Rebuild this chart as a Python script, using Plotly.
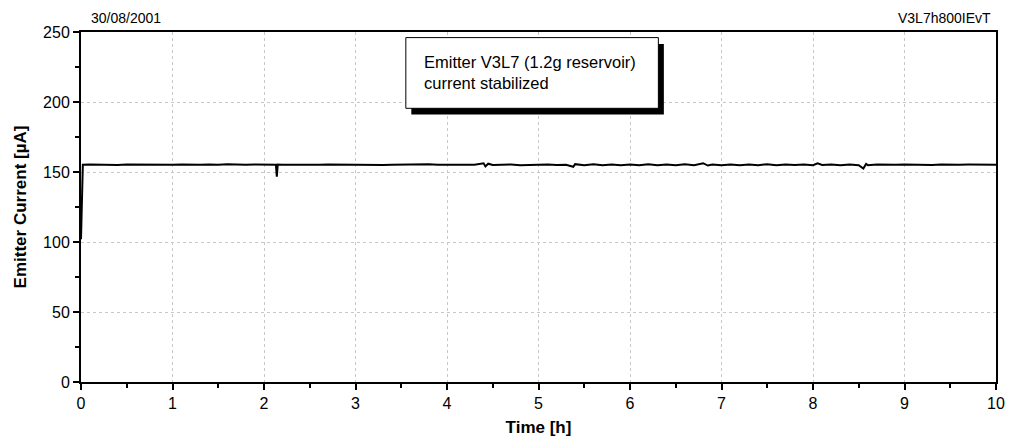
import plotly.graph_objects as go

# emitter current log
time_h = [0.0, 0.02, 0.1, 0.2, 0.3, 0.4, 0.5, 0.6, 0.7, 0.8, 0.9,
          1.0, 1.1, 1.2, 1.3, 1.4, 1.5, 1.6, 1.7, 1.8, 1.9,
          2.0, 2.1, 2.13, 2.14, 2.15, 2.2, 2.3, 2.4, 2.5, 2.6, 2.7, 2.8, 2.9,
          3.0, 3.1, 3.2, 3.3, 3.4, 3.5, 3.6, 3.7, 3.8, 3.9,
          4.0, 4.1, 4.2, 4.3, 4.4, 4.42, 4.45, 4.5, 4.6, 4.7, 4.8, 4.9,
          5.0, 5.1, 5.2, 5.3, 5.38, 5.4, 5.5, 5.6, 5.7, 5.8, 5.9,
          6.0, 6.1, 6.2, 6.3, 6.4, 6.5, 6.6, 6.7, 6.8, 6.85, 6.9,
          7.0, 7.1, 7.2, 7.3, 7.4, 7.5, 7.6, 7.7, 7.8, 7.9,
          8.0, 8.05, 8.1, 8.2, 8.3, 8.4, 8.5, 8.55, 8.58, 8.6, 8.7, 8.8, 8.9,
          9.0, 9.1, 9.2, 9.3, 9.4, 9.5, 9.6, 9.7, 9.8, 9.9, 10.0]
current_uA = [102.0, 155.2, 155.3, 155.1, 155.2, 155.0, 155.3, 155.2, 155.1, 155.3, 155.2,
              155.2, 155.3, 155.1, 155.2, 155.4, 155.2, 155.6, 155.2, 155.1, 155.3,
              155.2, 155.2, 155.2, 146.7, 155.3, 155.2, 155.1, 155.3, 155.2, 155.1, 155.3, 155.2, 155.2,
              155.1, 155.3, 155.2, 155.0, 155.2, 155.3, 155.1, 155.2, 155.6, 155.1,
              155.2, 154.9, 155.3, 155.1, 156.2, 154.0, 155.9, 155.0, 155.2, 155.4, 154.9, 155.2,
              155.1, 155.3, 155.0, 155.2, 153.7, 155.6, 154.8, 155.5, 154.9, 155.4, 154.9,
              155.3, 154.8, 155.5, 154.9, 155.4, 154.8, 155.5, 154.9, 156.3, 154.6, 155.3,
              154.9, 155.4, 154.8, 155.4, 154.9, 155.5, 154.9, 155.3, 155.0, 155.4,
              154.9, 156.2, 155.0, 155.3, 154.8, 155.4, 154.8, 152.5, 155.8, 154.9, 155.3, 155.1, 155.2,
              155.3, 155.1, 155.2, 155.0, 155.3, 155.1, 155.2, 155.3, 155.1, 155.2, 155.2]

note_lines = ["Emitter V3L7 (1.2g reservoir)", "current stabilized"]
date_label = "30/08/2001"
file_label = "V3L7h800IEvT"

fnt = "Arial, Liberation Sans, sans-serif"

fig = go.Figure()
fig.add_trace(go.Scatter(x=time_h, y=current_uA, mode="lines",
                         line=dict(color="black", width=2), showlegend=False))

# note box with drop shadow (data coords)
fig.add_shape(type="rect", x0=3.61, x1=6.37, y0=191.0, y1=241.5,
              fillcolor="black", line=dict(width=0), layer="above")
fig.add_shape(type="rect", x0=3.55, x1=6.31, y0=195.5, y1=246.0,
              fillcolor="white", line=dict(color="black", width=1), layer="above")
fig.add_annotation(x=3.73, y=221, xref="x", yref="y", xanchor="left", yanchor="middle",
                   text="<br>".join(note_lines), showarrow=False, align="left",
                   font=dict(family=fnt, size=16.5, color="black"))

fig.add_annotation(x=0.009, y=1.012, xref="paper", yref="paper", xanchor="left", yanchor="bottom",
                   text=date_label, showarrow=False, font=dict(family=fnt, size=14, color="black"))
fig.add_annotation(x=0.997, y=1.012, xref="paper", yref="paper", xanchor="right", yanchor="bottom",
                   text=file_label, showarrow=False, font=dict(family=fnt, size=14, color="black"))

axis_common = dict(showline=True, linecolor="black", linewidth=2, mirror=True,
                   ticks="outside", ticklen=6, tickwidth=1.5, tickcolor="black",
                   showgrid=True, gridcolor="#c8c8c8", griddash="dot", gridwidth=1,
                   zeroline=False, tickfont=dict(family=fnt, size=16, color="black"))

fig.update_xaxes(range=[0, 10], dtick=1, tick0=0,
                 minor=dict(dtick=0.5, ticks="outside", ticklen=4, tickcolor="black", showgrid=False),
                 title=dict(text="<b>Time [h]</b>", font=dict(family=fnt, size=17, color="black"), standoff=10),
                 **axis_common)
fig.update_yaxes(range=[0, 250], dtick=50, tick0=0,
                 minor=dict(dtick=25, ticks="outside", ticklen=4, tickcolor="black", showgrid=False),
                 title=dict(text="<b>Emitter Current [µA]</b>", font=dict(family=fnt, size=17, color="black"), standoff=12),
                 **axis_common)

fig.update_layout(width=1010, height=447, margin=dict(l=81, r=14, t=32, b=65, autoexpand=False),
                  plot_bgcolor="white", paper_bgcolor="white")

fig.write_html("out.html", config={"displayModeBar": False},
               post_script="document.body.style.margin='0';")
